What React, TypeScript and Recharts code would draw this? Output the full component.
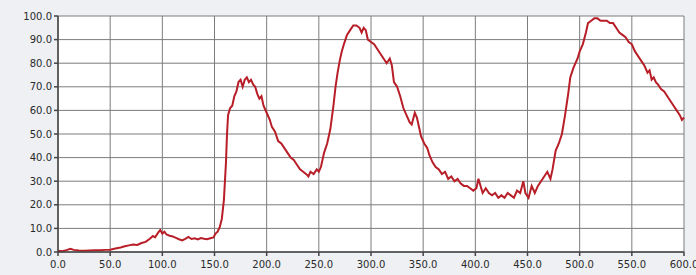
import React from "react";
import { LineChart, Line, XAxis, YAxis, CartesianGrid } from "recharts";

const positions: number[] = [
  0, 4, 8, 12, 15, 20, 25, 30, 35, 40, 45, 50, 55, 60, 64, 68, 72, 76, 80, 84, 88, 91, 93, 96, 98,
  100, 102, 104, 107, 110, 113, 116, 119, 122, 125, 128, 131, 134, 137, 140, 143, 146, 149, 151, 153,
  155, 157, 159, 161, 162, 163, 165, 167, 169, 171, 173, 175, 177, 179, 181, 183, 185, 187, 189, 191,
  193, 195, 197, 200, 203, 205, 208, 211, 214, 217, 220, 223, 226, 229, 232, 235, 238, 240, 242, 245,
  248, 250, 252, 255, 258, 261, 264, 266, 268, 270, 272, 274, 277, 280, 283, 286, 289, 291, 293, 295,
  297, 300, 303, 306, 309, 312, 315, 318, 320, 322, 325, 328, 331, 334, 337, 339, 342, 344, 346, 348,
  351, 354, 356, 359, 362, 365, 368, 371, 374, 377, 380, 383, 386, 389, 392, 395, 398, 401, 403, 405,
  407, 410, 413, 416, 419, 422, 425, 428, 431, 434, 437, 440, 443, 446, 448, 451, 454, 457, 460, 463,
  466, 469, 472, 474, 477, 480, 483, 486, 489, 491, 494, 496, 498, 500, 503, 506, 508, 511, 514, 517,
  520, 523, 526, 529, 532, 535, 538, 541, 544, 547, 550, 553, 556, 559, 562, 565, 567, 569, 571, 573,
  575, 578, 581, 584, 587, 590, 593, 596, 598, 600,
];

const intensity: number[] = [
  0.5, 0.3, 0.8, 1.4, 0.9, 0.6, 0.5, 0.6, 0.7, 0.7, 0.9, 1.0, 1.5, 1.9, 2.4, 2.8, 3.2, 3.0, 3.8, 4.3, 5.6, 6.8, 6.2, 8.2, 9.3,
  7.8, 8.6, 7.4, 6.9, 6.6, 6.0, 5.4, 4.9, 5.6, 6.4, 5.5, 5.8, 5.3, 5.9, 5.6, 5.4, 5.8, 6.2, 7.8, 8.6,
  10.5, 14, 22, 38, 50, 58, 61, 62, 66, 68, 72, 73, 70, 73, 74, 72, 73, 71, 70, 67,
  65, 66, 62, 59, 56, 53, 51, 47, 46, 44, 42, 40, 39, 37, 35, 34, 33, 32, 34, 33,
  35, 34, 36, 42, 46, 52, 62, 70, 76, 81, 85, 88, 92, 94, 96, 96, 95, 93, 95, 94,
  90, 89, 88, 86, 84, 82, 80, 82, 79, 72, 70, 66, 61, 58, 55, 54, 59, 57, 53, 49,
  46, 44, 41, 38, 36, 35, 33, 34, 31, 32, 30, 31, 29, 28, 28, 27, 26, 27, 31, 28,
  25, 27, 25, 24, 25, 23, 24, 23, 25, 24, 23, 26, 25, 30, 25, 23, 28, 25, 28, 30,
  32, 34, 31, 35, 43, 46, 50, 58, 67, 74, 78, 80, 82, 85, 88, 93, 97, 98, 99, 99,
  98, 98, 98, 97, 97, 95, 93, 92, 91, 89, 88, 85, 83, 81, 79, 76, 77, 73, 74, 72,
  71, 69, 68, 66, 64, 62, 60, 58, 56, 57,
];

const xTicks: number[] = [0, 50, 100, 150, 200, 250, 300, 350, 400, 450, 500, 550, 600];
const yTicks: number[] = [0, 10, 20, 30, 40, 50, 60, 70, 80, 90, 100];

const data = positions.map((x, i) => ({ x, y: intensity[i] }));

const tickStyle = { fontFamily: "DejaVu Sans", fontSize: 10, fill: "#2a2a2a" };

export default function App() {
  return (
    <div style={{ position: "absolute", left: 0, top: 0, width: 696, height: 275, background: "#eef0f3" }}>
      <LineChart
        width={696}
        height={275}
        data={data}
        margin={{ top: 16, right: 12, bottom: 3, left: 8 }}
      >
        <CartesianGrid stroke="#7c7c7c" strokeWidth={1} fill="#ffffff" />
        <XAxis
          dataKey="x"
          type="number"
          domain={[0, 600]}
          ticks={xTicks}
          tickFormatter={(v: number) => v.toFixed(1)}
          height={20}
          tick={tickStyle}
          tickSize={4}
          tickMargin={5}
          stroke="#444"
          strokeWidth={1.5}
          interval={0}
        />
        <YAxis
          type="number"
          domain={[0, 100]}
          ticks={yTicks}
          tickFormatter={(v: number) => v.toFixed(1)}
          width={50}
          tick={tickStyle}
          tickSize={4}
          tickMargin={2}
          stroke="#444"
          strokeWidth={1.5}
          interval={0}
        />
        <Line
          type="linear"
          dataKey="y"
          stroke="#b81e27"
          strokeWidth={2}
          dot={false}
          isAnimationActive={false}
        />
      </LineChart>
    </div>
  );
}
